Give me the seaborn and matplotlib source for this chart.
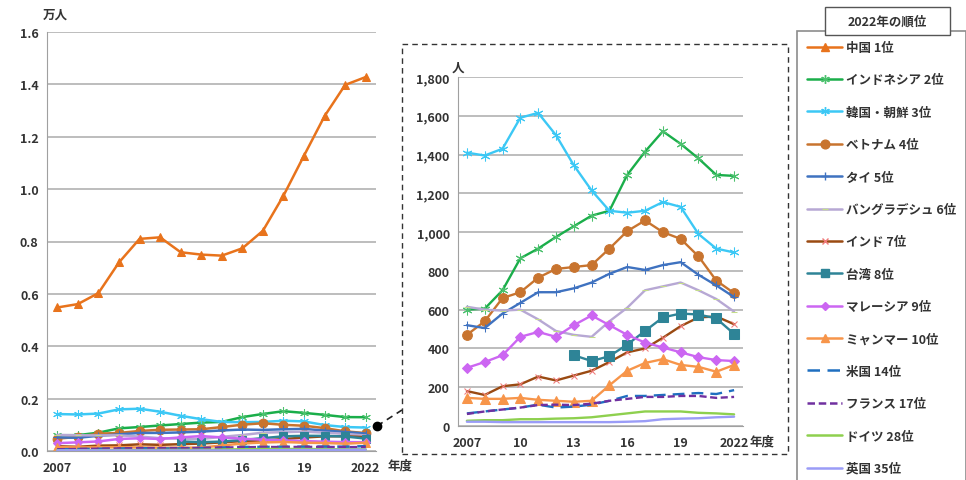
import numpy as np
import matplotlib
matplotlib.use("Agg")
import matplotlib.pyplot as plt
import seaborn as sns
from matplotlib.lines import Line2D
from matplotlib.patches import Rectangle
from matplotlib.ticker import FuncFormatter

sns.set_style("white")
plt.rcParams['font.family'] = ['Noto Sans CJK JP', 'DejaVu Sans']
plt.rcParams['font.weight'] = 'bold'
plt.rcParams['text.color'] = '#333333'
plt.rcParams['xtick.color'] = '#333333'
plt.rcParams['ytick.color'] = '#333333'

# 留学生数 (人), 2007-2022年度
years = list(range(2007, 2023))
tick_years = [2007, 2010, 2013, 2016, 2019, 2022]
tick_labels = ['2007', '10', '13', '16', '19', '2022']

china = [5480, 5610, 6030, 7200, 8100, 8160, 7590, 7500, 7460, 7740, 8410, 9750, 11280, 12790, 13980, 14280]
indonesia = [600, 605, 700, 865, 915, 975, 1030, 1085, 1110, 1295, 1415, 1520, 1455, 1380, 1295, 1290]
korea = [1410, 1395, 1430, 1590, 1615, 1500, 1345, 1215, 1110, 1100, 1110, 1155, 1130, 990, 915, 895]
vietnam = [470, 540, 660, 690, 765, 810, 820, 830, 915, 1005, 1060, 1000, 965, 875, 750, 685]
thailand = [520, 505, 580, 635, 690, 690, 710, 740, 785, 820, 805, 830, 845, 780, 725, 665]
bangladesh = [615, 600, 595, 600, 550, 490, 470, 460, 540, 610, 700, 720, 740, 700, 655, 590]
india = [180, 160, 205, 215, 255, 235, 260, 285, 330, 380, 400, 455, 515, 560, 565, 525]
taiwan = [np.nan] * 6 + [365, 335, 360, 420, 490, 560, 580, 575, 555, 475]
malaysia = [300, 330, 365, 460, 485, 460, 520, 570, 520, 470, 430, 405, 380, 355, 340, 335]
myanmar = [145, 140, 140, 145, 135, 130, 125, 130, 210, 285, 325, 345, 315, 305, 280, 315]
usa = [65, 75, 85, 95, 110, 95, 100, 110, 130, 155, 155, 160, 165, 170, 165, 185]
france = [62, 75, 85, 95, 108, 110, 108, 115, 130, 140, 150, 150, 155, 155, 145, 150]
germany = [27, 30, 30, 35, 35, 38, 40, 45, 55, 65, 75, 75, 75, 68, 65, 60]
uk = [22, 22, 20, 20, 20, 20, 20, 20, 20, 22, 25, 35, 38, 40, 45, 48]

labels = ['中国 1位', 'インドネシア 2位', '韓国・朝鮮 3位', 'ベトナム 4位', 'タイ 5位',
          'バングラデシュ 6位', 'インド 7位', '台湾 8位', 'マレーシア 9位', 'ミャンマー 10位',
          '米国 14位', 'フランス 17位', 'ドイツ 28位', '英国 35位']
values = [china, indonesia, korea, vietnam, thailand, bangladesh, india, taiwan,
          malaysia, myanmar, usa, france, germany, uk]

# styles: color, marker, markersize, marker color, linestyle
styles = [
    ('#E8731C', '^', 7, '#E8731C', '-'),
    ('#1AAE4A', (6, 2, 0), 7, '#4CC16E', '-'),
    ('#3CC8F5', (6, 2, 0), 7, '#3CC8F5', '-'),
    ('#C8742F', 'o', 7, '#C8742F', '-'),
    ('#3F72C0', '+', 6, '#3F72C0', '-'),
    ('#B7A8D4', '_', 5, '#C4DC8A', '-'),
    ('#9A4A12', 'x', 5, '#F07A7A', '-'),
    ('#2E8497', 's', 7, '#2E8497', '-'),
    ('#CC66F2', 'D', 5, '#CC66F2', '-'),
    ('#F7954A', '^', 7, '#F7954A', '-'),
    ('#1F6FC0', None, 0, '#1F6FC0', (0, (5, 3))),
    ('#7030A0', None, 0, '#7030A0', (0, (3, 1.5))),
    ('#8ED04E', None, 0, '#8ED04E', '-'),
    ('#9A9CF7', None, 0, '#9A9CF7', '-'),
]

W, H = 966, 481
fig = plt.figure(figsize=(W / 100, H / 100), dpi=100)


def fx(px):
    return px / W


def fy(py):
    return 1 - py / H


ax = fig.add_axes([fx(47), fy(452), fx(376 - 47), (452 - 33) / H])
ins = fig.add_axes([fx(458), fy(427), fx(743 - 458), (427 - 78) / H])


def draw(a, scale, ms_scale, lw):
    for vals, (c, m, ms, mc, ls) in zip(values, styles):
        y = np.array(vals, dtype=float) / scale
        sns.lineplot(x=years, y=y, ax=a, color=c, marker=m, markersize=ms * ms_scale,
                     markerfacecolor=mc, markeredgecolor=mc, linestyle=ls, lw=lw,
                     errorbar=None)


draw(ax, 10000, 0.9, 1.8)
draw(ins, 1, 1.0, 1.7)

for a in (ax, ins):
    a.set_xlim(2006.5, 2022.5)
    a.set_xticks(years)
    a.set_xticklabels([tick_labels[tick_years.index(yr)] if yr in tick_years else '' for yr in years])
    a.tick_params(axis='x', length=3, color='#A0A0A0', labelsize=9, pad=4)
    a.tick_params(axis='y', length=0, labelsize=9, pad=6)
    a.yaxis.grid(True, color='#BDBDBD', lw=1.4)
    a.xaxis.grid(False)
    for s in ('top', 'right'):
        a.spines[s].set_visible(False)
    for s in ('left', 'bottom'):
        a.spines[s].set_color('#A0A0A0')
    a.set_xlabel('')
    a.set_ylabel('')

ax.set_ylim(0, 1.6)
ax.set_yticks(np.arange(0, 1.61, 0.2))
ax.yaxis.set_major_formatter(FuncFormatter(lambda v, p: f'{v:.1f}'))
ins.set_ylim(0, 1800)
ins.set_yticks(range(0, 1801, 200))
ins.yaxis.set_major_formatter(FuncFormatter(lambda v, p: f'{int(v):,}'))

fig.text(fx(55), fy(15), '万人', ha='center', va='center', fontsize=9)
fig.text(fx(458), fy(68), '人', ha='center', va='center', fontsize=9)
fig.text(fx(388), fy(466), '年度', ha='left', va='center', fontsize=9)
fig.text(fx(750), fy(442), '年度', ha='left', va='center', fontsize=9)

# dashed inset frame and connector
fig.add_artist(Rectangle((fx(402), fy(455)), fx(788 - 402), (455 - 45) / H,
                         transform=fig.transFigure, fill=False, ec='#333333',
                         lw=1.0, ls=(0, (4, 3))))
fig.add_artist(Line2D([fx(377), fx(402)], [fy(427), fy(411)], transform=fig.transFigure,
                      color='#222222', lw=1.2, ls=(0, (4, 3))))
fig.add_artist(Line2D([fx(377)], [fy(427)], transform=fig.transFigure, marker='o',
                      markersize=6, color='black'))

# legend
handles = [Line2D([], [], color=c, marker=m, markersize=ms * 0.9, markerfacecolor=mc,
                  markeredgecolor=mc, linestyle=ls, lw=1.8)
           for (c, m, ms, mc, ls) in styles]
leg = fig.legend(handles, labels, loc='upper left', bbox_to_anchor=(fx(797), fy(32)),
                 frameon=True, fancybox=False, fontsize=9, handlelength=2.8,
                 handletextpad=0.3, labelspacing=1.55, borderpad=0.8,
                 borderaxespad=0)
leg.get_frame().set_edgecolor('#707070')
leg.get_frame().set_linewidth(1.2)

fig.add_artist(Rectangle((fx(825), fy(36)), fx(125), 28 / H, transform=fig.transFigure,
                         fc='white', ec='#555555', lw=1.0, zorder=10))
fig.text(fx(887), fy(22), '2022年の順位', ha='center', va='center', fontsize=9, zorder=11)

fig.savefig('out.png', dpi=100)
